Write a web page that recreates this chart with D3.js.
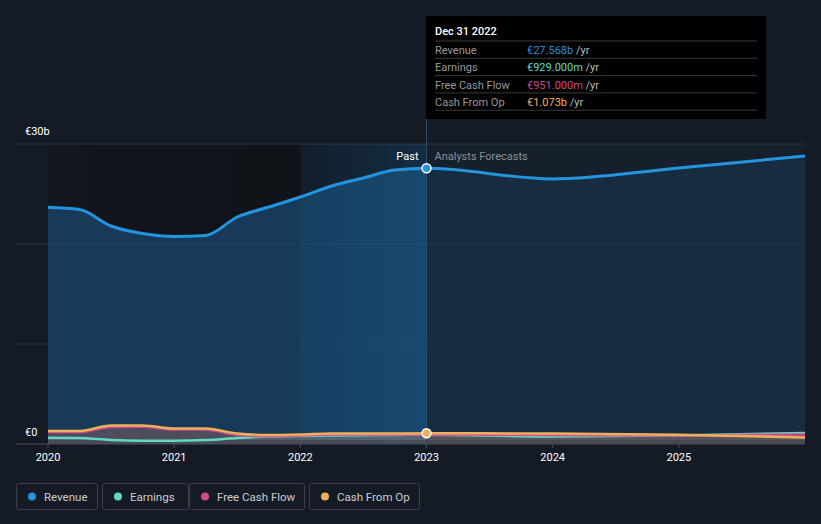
<!DOCTYPE html>
<html>
<head>
<meta charset="utf-8">
<script src="https://cdn.jsdelivr.net/npm/d3@7"></script>
<style>
  body { margin: 0; background: #151b25; }
  svg { display: block; font-family: Roboto, "Noto Sans", sans-serif; }
</style>
</head>
<body>
<svg id="chart" width="821" height="524"></svg>
<script>
// past = quarterly, forecast = yearly (decimal years)
const pastDates = [2020, 2020.25, 2020.5, 2020.75, 2021, 2021.25, 2021.5, 2021.75, 2022, 2022.25, 2022.5, 2022.75, 2023];
const pastRevenue = [23.67, 23.45, 21.8, 21.05, 20.75, 20.85, 22.7, 23.7, 24.7, 25.8, 26.6, 27.4, 27.568];
const pastEarnings = [0.63, 0.6, 0.4, 0.33, 0.33, 0.4, 0.6, 0.75, 0.8, 0.85, 0.88, 0.9, 0.929];
const pastFCF = [1.2, 1.2, 1.7, 1.72, 1.45, 1.45, 0.9, 0.78, 0.85, 0.95, 0.95, 0.95, 0.951];
const pastCFO = [1.3, 1.3, 1.85, 1.85, 1.55, 1.55, 1.05, 0.9, 0.95, 1.05, 1.05, 1.05, 1.073];

const fcDates = [2023, 2024, 2025, 2026];
const fcRevenue = [27.568, 26.5, 27.6, 28.8];
const fcEarnings = [0.929, 0.75, 0.85, 1.1];
const fcFCF = [0.951, 0.9, 0.85, 0.95];
const fcCFO = [1.073, 1.05, 0.92, 0.65];

const xTicks = [2020, 2021, 2022, 2023, 2024, 2025];
const yTicks = [0, 10, 20, 30];

const seriesNames = ['Revenue', 'Earnings', 'Free Cash Flow', 'Cash From Op'];
const seriesColors = ['#2394df', '#5fd9c4', '#d14a8b', '#f0b05a'];
const tooltipValues = ['€27.568b', '€929.000m', '€951.000m', '€1.073b'];

const svg = d3.select('#chart');

const x = d3.scaleLinear().domain([2020, 2026]).range([48, 805]);
const y = d3.scaleLinear().domain([0, 30]).range([444, 144]);
const now = 2023;

const defs = svg.append('defs');
const gPast = defs.append('linearGradient').attr('id', 'pastBg');
gPast.append('stop').attr('offset', '0%').attr('stop-color', '#12161d');
gPast.append('stop').attr('offset', '100%').attr('stop-color', '#0f1318');
const gBand = defs.append('linearGradient').attr('id', 'band');
gBand.append('stop').attr('offset', '0%').attr('stop-color', '#1e6aa8').attr('stop-opacity', 0.12);
gBand.append('stop').attr('offset', '100%').attr('stop-color', '#1e6aa8').attr('stop-opacity', 0.3);

// backgrounds
svg.append('rect').attr('x', x(2020)).attr('y', y(30)).attr('width', x(now) - x(2020)).attr('height', y(0) - y(30))
  .attr('fill', 'url(#pastBg)');
svg.append('rect').attr('x', x(now)).attr('y', y(30)).attr('width', x(2026) - x(now)).attr('height', y(0) - y(30))
  .attr('fill', '#16202c');

// gridlines
svg.append('g').selectAll('line').data(yTicks).enter().append('line')
  .attr('x1', 16).attr('x2', 805)
  .attr('y1', d => y(d)).attr('y2', d => y(d))
  .attr('stroke', d => d === 0 ? '#4a4f58' : '#2e3540').attr('stroke-width', 1);

function pts(dates, vals) { return dates.map((d, i) => [d, vals[i]]); }

const line = d3.line().x(d => x(d[0])).y(d => y(d[1])).curve(d3.curveMonotoneX);
const area = d3.area().x(d => x(d[0])).y0(y(0)).y1(d => y(d[1])).curve(d3.curveMonotoneX);

// revenue area
svg.append('path').attr('d', area(pts(pastDates, pastRevenue))).attr('fill', '#1a4a72').attr('fill-opacity', 0.7);
svg.append('path').attr('d', area(pts(fcDates, fcRevenue))).attr('fill', '#1b3650').attr('fill-opacity', 0.6);

// highlighted year band
svg.append('rect').attr('x', x(2022)).attr('y', y(30)).attr('width', x(now) - x(2022)).attr('height', y(0) - y(30))
  .attr('fill', 'url(#band)');

// small series areas
const small = [[pastEarnings, fcEarnings], [pastFCF, fcFCF], [pastCFO, fcCFO]];
small.forEach((s, i) => {
  svg.append('path').attr('d', area(pts(pastDates, s[0]).concat(pts(fcDates, s[1]).slice(1))))
    .attr('fill', seriesColors[i + 1]).attr('fill-opacity', 0.15);
});
svg.append('rect').attr('x', x(2020)).attr('y', y(0) - 4).attr('width', x(2026) - x(2020)).attr('height', 4)
  .attr('fill', '#3c4048').attr('fill-opacity', 0.6);

// lines
const allSeries = [[pastRevenue, fcRevenue], [pastEarnings, fcEarnings], [pastFCF, fcFCF], [pastCFO, fcCFO]];
[1, 2, 3, 0].forEach(i => {
  const s = allSeries[i];
  svg.append('path')
    .attr('d', line(pts(pastDates, s[0]).concat(pts(fcDates, s[1]).slice(1))))
    .attr('fill', 'none')
    .attr('stroke', seriesColors[i])
    .attr('stroke-width', i === 0 ? 3 : 2.5);
});

// now line
svg.append('line').attr('x1', x(now)).attr('x2', x(now)).attr('y1', 119).attr('y2', y(0))
  .attr('stroke', '#2a4a66').attr('stroke-width', 1);

// markers
svg.append('circle').attr('cx', x(now)).attr('cy', y(pastRevenue[12])).attr('r', 4.5)
  .attr('fill', seriesColors[0]).attr('stroke', '#fff').attr('stroke-width', 1.5);
svg.append('circle').attr('cx', x(now)).attr('cy', y(pastCFO[12])).attr('r', 4.5)
  .attr('fill', seriesColors[3]).attr('stroke', '#fff').attr('stroke-width', 1.5);

// y labels
svg.append('text').attr('x', 25).attr('y', 135).attr('fill', '#fff').attr('font-size', 11).text('€30b');
svg.append('text').attr('x', 25).attr('y', 436).attr('fill', '#fff').attr('font-size', 11).text('€0');

// x axis labels
svg.append('g').selectAll('text').data(xTicks).enter().append('text')
  .attr('x', d => x(d)).attr('y', 461).attr('text-anchor', 'middle')
  .attr('fill', '#fff').attr('font-size', 11).text(d => d);
svg.append('g').selectAll('line').data(xTicks).enter().append('line')
  .attr('x1', d => x(d)).attr('x2', d => x(d)).attr('y1', y(0)).attr('y2', y(0) + 4)
  .attr('stroke', '#4a4f58');

// Past / Analysts Forecasts
svg.append('text').attr('x', x(now) - 8).attr('y', 160).attr('text-anchor', 'end')
  .attr('fill', '#fff').attr('font-size', 11).text('Past');
svg.append('text').attr('x', x(now) + 8).attr('y', 160)
  .attr('fill', '#8a8f96').attr('font-size', 11).text('Analysts Forecasts');

// tooltip
const tip = svg.append('g').attr('transform', 'translate(426,16)');
tip.append('rect').attr('width', 340).attr('height', 103).attr('fill', '#000');
tip.append('text').attr('x', 9).attr('y', 19).attr('fill', '#fff').attr('font-size', 11).attr('font-weight', 500).text('Dec 31 2022');
seriesNames.forEach((n, i) => {
  const ry = 25 + i * 17.3;
  tip.append('line').attr('x1', 9).attr('x2', 331).attr('y1', ry).attr('y2', ry).attr('stroke', '#3a3a3a');
  tip.append('text').attr('x', 9).attr('y', ry + 13).attr('fill', '#999').attr('font-size', 11).text(n);
  const t = tip.append('text').attr('x', 101).attr('y', ry + 13).attr('font-size', 11);
  t.append('tspan').attr('fill', seriesColors[i]).text(tooltipValues[i]);
  t.append('tspan').attr('fill', '#bbb').text(' /yr');
});
tip.append('line').attr('x1', 9).attr('x2', 331).attr('y1', 25 + 4 * 17.3).attr('y2', 25 + 4 * 17.3).attr('stroke', '#3a3a3a');

// legend
const legendX = [16, 102, 189, 309];
const legendW = [81, 86, 115, 110];
const legend = svg.append('g').selectAll('g').data(seriesNames).enter().append('g')
  .attr('transform', (d, i) => `translate(${legendX[i]},483)`);
legend.append('rect').attr('x', 0.5).attr('y', 0.5).attr('width', (d, i) => legendW[i]).attr('height', 26)
  .attr('rx', 2).attr('fill', 'none').attr('stroke', '#3a3f48');
legend.append('circle').attr('cx', 16).attr('cy', 13.5).attr('r', 4).attr('fill', (d, i) => seriesColors[i]);
legend.append('text').attr('x', 28).attr('y', 17.5).attr('fill', '#ccc').attr('font-size', 11.5).text(d => d);
</script>
</body>
</html>
